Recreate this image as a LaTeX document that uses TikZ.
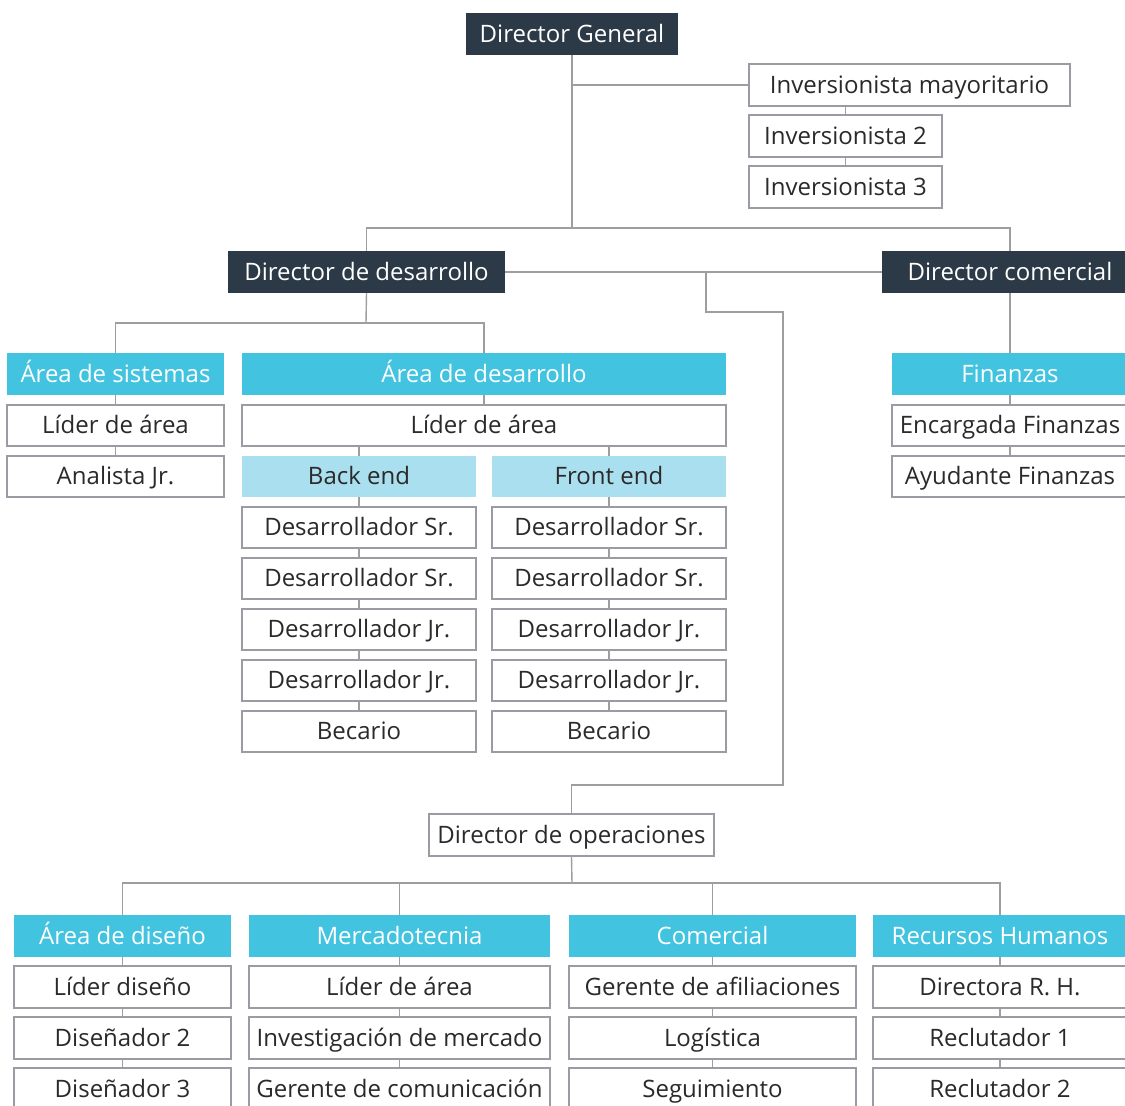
\documentclass[tikz,border=0pt]{standalone}
\usepackage{fontspec}
\setmainfont{Open Sans}
\usepackage{xcolor}
\usetikzlibrary{positioning,calc}

\definecolor{darkbox}{HTML}{2C3A47}
\definecolor{cyanbox}{HTML}{42C3DF}
\definecolor{lightcyan}{HTML}{A9DFEE}
\definecolor{boxline}{HTML}{9B9BA3}
\definecolor{linegray}{HTML}{9E9E9E}
\definecolor{txt}{HTML}{2A2A2A}

\begin{document}
\begin{tikzpicture}[
    x=1pt, y=-1pt,
    base/.style={inner sep=0pt, minimum height=42pt, align=center,
                 text height=17pt, text depth=1pt,
                 font=\fontsize{24}{28}\selectfont},
    dark/.style={base, fill=darkbox, text=white},
    area/.style={base, fill=cyanbox, text=white},
    sub/.style={base, fill=lightcyan, text=txt, minimum height=41pt},
    box/.style={base, draw=boxline, line width=1.2pt, fill=white, text=txt,
                minimum height=41pt},
    link/.style={draw=linegray, line width=1.4pt}
  ]
  \path[use as bounding box, clip] (0,0) rectangle (1125,1106);

  % top level
  \node[dark, minimum width=212pt] (dg) at (572,34) {Director General};
  \node[box, minimum width=321pt, minimum height=42pt] (inv1) at (909.5,85) {Inversionista mayoritario};
  \node[box, minimum width=193pt, minimum height=42pt] (inv2) at (845.5,136) {Inversionista 2};
  \node[box, minimum width=193pt, minimum height=42pt] (inv3) at (845.5,187) {Inversionista 3};

  \coordinate (bus1) at (572,228);
  \draw[link] (dg.south) -- (bus1);
  \draw[link] (dg.south) |- (inv1.west);
  \draw[link] (inv2.north) -- (inv2.north |- inv1.south);
  \draw[link] (inv2.south) -- (inv3.north);

  % directors
  \node[dark, minimum width=277pt] (dd) at (366.5,272) {Director de desarrollo};
  \node[dark, minimum width=256pt] (dc) at (1010,272) {Director comercial};
  \draw[link] (dd.north) |- (bus1) -| (dc.north);
  \draw[link] (dd.east) -- (dc.west);

  % desarrollo
  \node[area, minimum width=217pt] (sis) at (115.5,374) {Área de sistemas};
  \node[box, minimum width=217pt] (sisL) at (115.5,425.5) {Líder de área};
  \node[box, minimum width=217pt] (sisA) at (115.5,476.5) {Analista Jr.};
  \node[area, minimum width=484pt] (des) at (484,374) {Área de desarrollo};
  \node[box, minimum width=484pt] (desL) at (484,425.5) {Líder de área};
  \node[sub, minimum width=234pt] (be) at (359,476.5) {Back end};
  \node[sub, minimum width=234pt] (fe) at (609,476.5) {Front end};

  \coordinate (bus2) at (366,323);
  \draw[link] (dd.south) -- (bus2);
  \draw[link] (sis.north) |- (bus2) -| (des.north);
  \draw[link] (sis.south) -- (sisL.north);
  \draw[link] (sisL.south) -- (sisA.north);
  \draw[link] (des.south) -- (desL.north);
  \draw[link] (be.north) -- (be.north |- desL.south);
  \draw[link] (fe.north) -- (fe.north |- desL.south);

  \foreach \t [count=\i] in {Desarrollador Sr., Desarrollador Sr., Desarrollador Jr., Desarrollador Jr., Becario} {
    \node[box, minimum width=234pt] (be\i) at (359,{476.5+51*\i}) {\t};
    \node[box, minimum width=234pt] (fe\i) at (609,{476.5+51*\i}) {\t};
  }
  \draw[link] (be.south) -- (be1.north);
  \draw[link] (fe.south) -- (fe1.north);
  \foreach \i in {2,...,5} {
    \pgfmathtruncatemacro\j{\i-1}
    \draw[link] (be\j.south) -- (be\i.north);
    \draw[link] (fe\j.south) -- (fe\i.north);
  }

  % comercial
  \node[area, minimum width=236pt] (fin) at (1010,374) {Finanzas};
  \node[box, minimum width=236pt] (fin1) at (1010,425.5) {Encargada Finanzas};
  \node[box, minimum width=236pt] (fin2) at (1010,476.5) {Ayudante Finanzas};
  \draw[link] (dc.south) -- (fin.north);
  \draw[link] (fin.south) -- (fin1.north);
  \draw[link] (fin1.south) -- (fin2.north);

  % operaciones
  \node[box, minimum width=285pt, minimum height=42pt] (do) at (571.5,835) {Director de operaciones};
  \coordinate (ops1) at (706,272);
  \draw[link] (ops1) |- ++(77,40) -- ++(0,473) -| (do.north);

  \node[area, minimum width=217pt] (dis) at (122.5,936) {Área de diseño};
  \node[area, minimum width=301pt] (mer) at (399.5,936) {Mercadotecnia};
  \node[area, minimum width=287pt] (com) at (712.5,936) {Comercial};
  \node[area, minimum width=254pt] (rh) at (1000,936) {Recursos Humanos};

  \coordinate (bus3) at (572,883);
  \draw[link] (do.south) -- (bus3);
  \draw[link] (dis.north) |- (bus3) -| (rh.north);
  \draw[link] (mer.north) -- (mer.north |- bus3);
  \draw[link] (com.north) -- (com.north |- bus3);

  \foreach \t [count=\i] in {Líder diseño, Diseñador 2, Diseñador 3} {
    \node[box, minimum width=217pt, minimum height=42pt] (dis\i) at (122.5,{936+51*\i}) {\t};
  }
  \foreach \t [count=\i] in {Líder de área, Investigación de mercado, Gerente de comunicación} {
    \node[box, minimum width=301pt, minimum height=42pt] (mer\i) at (399.5,{936+51*\i}) {\t};
  }
  \foreach \t [count=\i] in {Gerente de afiliaciones, Logística, Seguimiento} {
    \node[box, minimum width=287pt, minimum height=42pt] (com\i) at (712.5,{936+51*\i}) {\t};
  }
  \foreach \t [count=\i] in {Directora R. H., Reclutador 1, Reclutador 2} {
    \node[box, minimum width=254pt, minimum height=42pt] (rh\i) at (1000,{936+51*\i}) {\t};
  }
  \foreach \n in {dis,mer,com,rh} {
    \draw[link] (\n.south) -- (\n1.north);
    \draw[link] (\n1.south) -- (\n2.north);
    \draw[link] (\n2.south) -- (\n3.north);
  }
\end{tikzpicture}
\end{document}
